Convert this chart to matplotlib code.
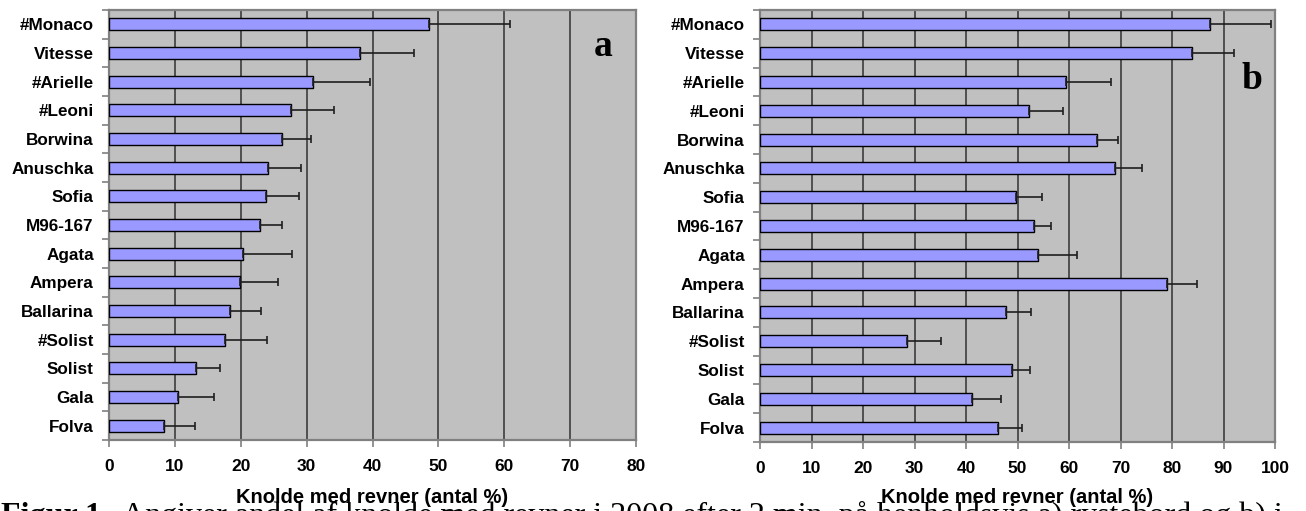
import numpy as np
import matplotlib
matplotlib.use("Agg")
import matplotlib.pyplot as plt
from matplotlib import font_manager

# ---------------- data ----------------
varieties = ["#Monaco", "Vitesse", "#Arielle", "#Leoni", "Borwina", "Anuschka",
             "Sofia", "M96-167", "Agata", "Ampera", "Ballarina", "#Solist",
             "Solist", "Gala", "Folva"]

values_a = [48.6, 38.1, 31.0, 27.6, 26.3, 24.1, 23.8, 22.9, 20.3, 19.9, 18.4, 17.6, 13.2, 10.5, 8.4]
errors_a = [12.3, 8.2, 8.6, 6.6, 4.3, 5.1, 5.0, 3.4, 7.5, 5.8, 4.7, 6.4, 3.6, 5.4, 4.7]

values_b = [87.3, 83.8, 59.4, 52.2, 65.4, 68.9, 49.7, 53.2, 53.9, 79.1, 47.7, 28.6, 49.0, 41.2, 46.2]
errors_b = [11.9, 8.3, 8.8, 6.6, 4.2, 5.2, 5.0, 3.4, 7.6, 5.7, 4.9, 6.5, 3.5, 5.5, 4.6]

xticks_a = [0, 10, 20, 30, 40, 50, 60, 70, 80]
xticks_b = [0, 10, 20, 30, 40, 50, 60, 70, 80, 90, 100]

xlabel = "Knolde med revner (antal %)"
caption_bold = "Figur 1."
caption_text = "Angiver andel af knolde med revner i 2008 efter 2 min. på henholdsvis a) rystebord og b) i"

# ---------------- style ----------------
avail = {f.name for f in font_manager.fontManager.ttflist}
sans = ["Liberation Sans Narrow", "Liberation Sans", "DejaVu Sans"]
sans = [f for f in sans if f in avail] or ["DejaVu Sans"]
narrow = sans[0] == "Liberation Sans Narrow"
serif = ["Liberation Serif", "DejaVu Serif"]

tick_fs = 14.5 if narrow else 12.3
xtick_fs = 14.5 if narrow else 12.5
label_fs = 16.5 if narrow else 14.5

W, H = 1306, 511
fig = plt.figure(figsize=(W / 100, H / 100), dpi=100)
fig.patch.set_facecolor("white")

bg = "#C0C0C0"
bar_color = "#9999FF"
grid_color = "#3C3C3C"
spine_color = "#808080"


def px_axes(x0, x1, ytop, ybot):
    return [x0 / W, (H - ybot) / H, (x1 - x0) / W, (ybot - ytop) / H]


def draw_panel(ax, values, errors, xticks, letter, letter_pos, label_y):
    n = len(varieties)
    y = np.arange(n)
    ax.set_facecolor(bg)
    ax.barh(y, values, height=0.42, color=bar_color, edgecolor="black",
            linewidth=1.0, zorder=3)
    ax.errorbar(values, y, xerr=[np.zeros(n), errors], fmt="none",
                ecolor="#1e1e1e", elinewidth=1.2, capsize=3, capthick=1.2,
                zorder=4)
    ax.set_xlim(xticks[0], xticks[-1])
    ax.set_ylim(n - 0.5, -0.5)
    ax.set_xticks(xticks)
    ax.set_xticklabels([str(t) for t in xticks], fontsize=xtick_fs,
                       fontweight="bold", family=sans)
    ax.set_yticks(y)
    ax.set_yticklabels(varieties, fontsize=tick_fs, fontweight="bold",
                       family=sans)
    ax.set_yticks(np.arange(-0.5, n, 1.0), minor=True)
    ax.tick_params(axis="y", which="major", length=0, pad=11)
    ax.tick_params(axis="y", which="minor", length=5, width=1.2,
                   color=spine_color, direction="out")
    ax.tick_params(axis="x", which="major", length=5, width=1.2,
                   color=spine_color, direction="out", pad=9)
    for xt in xticks[1:-1]:
        ax.axvline(xt, color=grid_color, linewidth=1.2, zorder=1)
    for s in ax.spines.values():
        s.set_color(spine_color)
        s.set_linewidth(1.6)
    ax.set_xlabel(xlabel, fontsize=label_fs, fontweight="bold", family=sans)
    ax.xaxis.label.set_va("baseline")
    ax.xaxis.set_label_coords(0.5, label_y)
    ax.text(letter_pos[0], letter_pos[1], letter, transform=ax.transAxes,
            ha="center", va="center", fontsize=27, fontweight="bold",
            family=serif, zorder=5)


ax_a = fig.add_axes(px_axes(109, 636, 10, 440))
ax_b = fig.add_axes(px_axes(760, 1275, 10, 442))

draw_panel(ax_a, values_a, errors_a, xticks_a, "a", (0.937, 0.915), -0.1465)
draw_panel(ax_b, values_b, errors_b, xticks_b, "b", (0.955, 0.84), -0.141)

# caption (cut by the bottom edge as in the original)
cap_y = (H - 524) / H
fig.text(1 / W, cap_y, caption_bold, fontsize=23, fontweight="bold",
         family=serif, ha="left", va="baseline", zorder=0)
fig.text(122 / W, cap_y, caption_text, fontsize=23, family=serif,
         ha="left", va="baseline", zorder=0)

fig.savefig("out.png", dpi=100, facecolor="white")
